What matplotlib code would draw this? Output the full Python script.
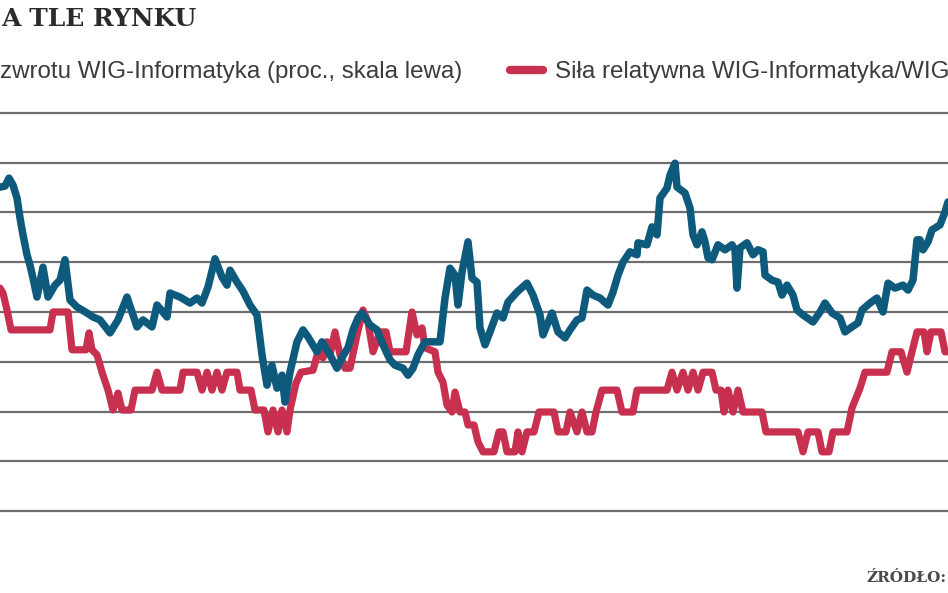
import matplotlib
matplotlib.use("Agg")
import matplotlib.pyplot as plt
from matplotlib import font_manager

# Stopa zwrotu WIG-Informatyka (proc., skala lewa) - odczyt z wykresu
blue_t = [0, 5, 9, 13, 17, 20, 23, 27, 30, 33, 37, 43, 48, 55, 60, 65, 70, 77, 87, 93,
          100, 110, 118, 127, 137, 143, 152, 157, 167, 170, 180, 190, 197, 202, 208, 215,
          222, 227, 230, 237, 243, 250, 257, 262, 267, 272, 277, 282, 285, 290, 297, 303,
          308, 317, 322, 330, 337, 343, 348, 353, 358, 362, 370, 377, 383, 390, 395, 403,
          408, 413, 418, 425, 440, 445, 450, 455, 458, 462, 468, 472, 477, 480, 485, 490,
          497, 503, 508, 517, 527, 533, 540, 543, 552, 558, 565, 570, 577, 582, 587, 593,
          600, 608, 613, 618, 623, 630, 637, 638, 647, 652, 657, 660, 667, 670, 675, 677,
          685, 690, 693, 697, 702, 705, 708, 712, 718, 725, 732, 735, 737, 740, 747, 753,
          758, 763, 765, 772, 778, 782, 787, 793, 797, 803, 813, 820, 825, 832, 840, 845,
          852, 858, 862, 870, 877, 883, 888, 895, 903, 908, 913, 917, 920, 923, 928, 932,
          940, 945, 948]
blue_v = [65.1, 65.3, 66.9, 65.5, 62.9, 58.9, 55.5, 51.5, 49.4, 46.8, 43.0, 49.0, 43.0, 45.4,
          46.4, 50.5, 42.4, 41.0, 39.8, 39.0, 38.4, 35.8, 38.4, 43.0, 37.0, 38.4, 37.0, 41.4,
          39.0, 43.8, 43.0, 41.8, 42.8, 41.8, 45.0, 50.7, 47.0, 45.4, 48.4, 46.0, 44.2, 41.4,
          39.4, 31.4, 25.3, 29.3, 24.7, 27.3, 21.9, 27.9, 34.0, 36.4, 35.0, 32.0, 34.0, 31.4,
          28.7, 31.2, 32.8, 36.4, 38.8, 39.8, 37.4, 36.4, 33.4, 30.4, 29.3, 28.7, 27.3, 28.7,
          31.4, 34.0, 34.0, 42.8, 48.8, 47.4, 41.4, 48.0, 54.1, 46.8, 46.0, 36.8, 33.4, 36.0,
          39.8, 38.8, 42.0, 44.0, 45.8, 43.4, 39.4, 35.4, 39.8, 36.0, 34.8, 36.4, 38.4, 38.8,
          44.4, 43.4, 42.8, 41.4, 44.0, 47.4, 50.0, 52.1, 51.5, 53.9, 53.5, 57.1, 55.5, 62.9,
          64.9, 67.5, 69.9, 65.1, 63.9, 60.9, 55.5, 53.5, 56.1, 54.1, 50.9, 50.5, 53.5, 52.5,
          53.5, 52.5, 44.8, 52.9, 53.9, 51.5, 52.5, 52.1, 47.4, 46.4, 46.0, 43.4, 45.4, 43.4,
          40.4, 39.4, 38.0, 40.0, 41.8, 39.8, 38.8, 36.0, 37.0, 37.8, 40.4, 41.8, 42.8, 40.0,
          45.8, 44.8, 45.4, 44.4, 46.4, 54.5, 54.5, 52.5, 54.1, 56.5, 57.5, 60.1, 62.1]

# Siła relatywna WIG-Informatyka/WIG - odczyt z wykresu
red_t = [0, 3, 7, 11, 50, 53, 68, 72, 86, 89, 92, 97, 102, 108, 113, 118, 122, 131, 135, 152,
         157, 162, 180, 183, 197, 202, 207, 212, 217, 222, 227, 237, 240, 251, 255, 264, 268,
         273, 278, 282, 287, 290, 296, 301, 313, 318, 323, 327, 330, 335, 340, 345, 350, 357,
         363, 368, 373, 378, 380, 386, 390, 406, 412, 417, 422, 425, 435, 438, 443, 447, 452,
         455, 460, 465, 468, 474, 478, 483, 494, 499, 503, 507, 515, 518, 522, 527, 534, 539,
         554, 558, 566, 570, 577, 582, 587, 592, 596, 602, 617, 622, 633, 637, 667, 672, 677,
         683, 688, 693, 698, 703, 712, 716, 721, 724, 728, 733, 738, 743, 762, 766, 798, 803,
         808, 818, 822, 829, 833, 847, 852, 860, 865, 887, 892, 901, 907, 912, 917, 924, 927,
         931, 941, 945, 948]
red_v = [44.8, 43.8, 40.4, 36.4, 36.4, 40.0, 40.0, 32.4, 32.4, 35.8, 32.4, 31.4, 27.9, 24.3,
         20.3, 23.7, 20.3, 20.3, 24.3, 24.3, 27.9, 24.3, 24.3, 27.9, 27.9, 24.3, 27.9, 24.3,
         27.9, 24.3, 27.9, 27.9, 24.3, 24.3, 20.3, 20.3, 15.9, 20.3, 15.9, 20.3, 15.9, 20.3,
         25.7, 27.9, 28.3, 32.0, 30.8, 34.0, 31.4, 36.0, 31.4, 28.7, 28.7, 35.4, 40.4, 38.0,
         32.0, 34.8, 36.0, 36.0, 32.0, 32.0, 40.0, 35.4, 36.8, 32.8, 32.0, 27.9, 25.9, 21.3,
         19.9, 23.9, 19.9, 19.9, 17.3, 17.3, 13.9, 11.9, 11.9, 15.9, 15.9, 11.9, 11.9, 15.9,
         11.9, 15.9, 15.9, 19.9, 19.9, 15.9, 15.9, 19.9, 15.9, 19.9, 15.9, 15.9, 19.9, 24.3,
         24.3, 19.9, 19.9, 24.3, 24.3, 27.9, 24.3, 27.9, 24.3, 27.9, 24.3, 27.9, 27.9, 24.3,
         24.3, 19.9, 24.3, 19.9, 24.3, 19.9, 19.9, 15.9, 15.9, 11.9, 15.9, 15.9, 11.9, 11.9,
         15.9, 15.9, 20.7, 24.7, 27.9, 27.9, 32.0, 32.0, 27.9, 32.0, 36.0, 36.0, 32.0, 36.0,
         36.0, 32.0, 32.0]

grid_levels = [0, 10, 20, 30, 40, 50, 60, 70, 80]

BLUE = "#0e5a7d"
RED = "#c8304f"

installed = {f.name for f in font_manager.fontManager.ttflist}
narrow = "Liberation Sans Narrow" if "Liberation Sans Narrow" in installed else "Liberation Sans"

W, H = 948, 593
fig = plt.figure(figsize=(W / 100, H / 100), dpi=100)
fig.patch.set_facecolor("white")

# os wykresu - wychodzi poza kadr z lewej i prawej
ax = fig.add_axes([0, (H - 520) / H, 1, 420 / H])
ax.set_xlim(0, 948)
ax.set_ylim(-1.8, 82.6)
ax.axis("off")

for g in grid_levels:
    ax.axhline(g, color="#6e6e6e", lw=1.6, zorder=1)

ax.plot(blue_t, blue_v, color=BLUE, lw=5.4, solid_joinstyle="round",
        solid_capstyle="round", zorder=3)
ax.plot(red_t, red_v, color=RED, lw=5.2, solid_joinstyle="round",
        solid_capstyle="round", zorder=2)

# tytul i legenda
fig.text(1 / W, 1 - 19 / H, "A TLE RYNKU", family="DejaVu Serif", weight="bold",
         fontsize=18, color="#2b2b2b", va="center", ha="left")
fig.text(0 / W, 1 - 72 / H, "zwrotu WIG-Informatyka (proc., skala lewa)", family=narrow,
         fontsize=17.4, color="#3c3c3c", va="center", ha="left")
fig.add_artist(plt.Line2D([510 / W, 543 / W], [1 - 70 / H, 1 - 70 / H], color=RED,
                          lw=6, solid_capstyle="round", transform=fig.transFigure))
fig.text(555 / W, 1 - 72 / H, "Siła relatywna WIG-Informatyka/WIG", family=narrow,
         fontsize=17.4, color="#3c3c3c", va="center", ha="left")
fig.text(866 / W, 1 - 578 / H, "ŹRÓDŁO:", family="DejaVu Serif", weight="bold",
         fontsize=11, color="#4a4a4a", va="center", ha="left")

fig.savefig("out.png", dpi=100, facecolor="white")
